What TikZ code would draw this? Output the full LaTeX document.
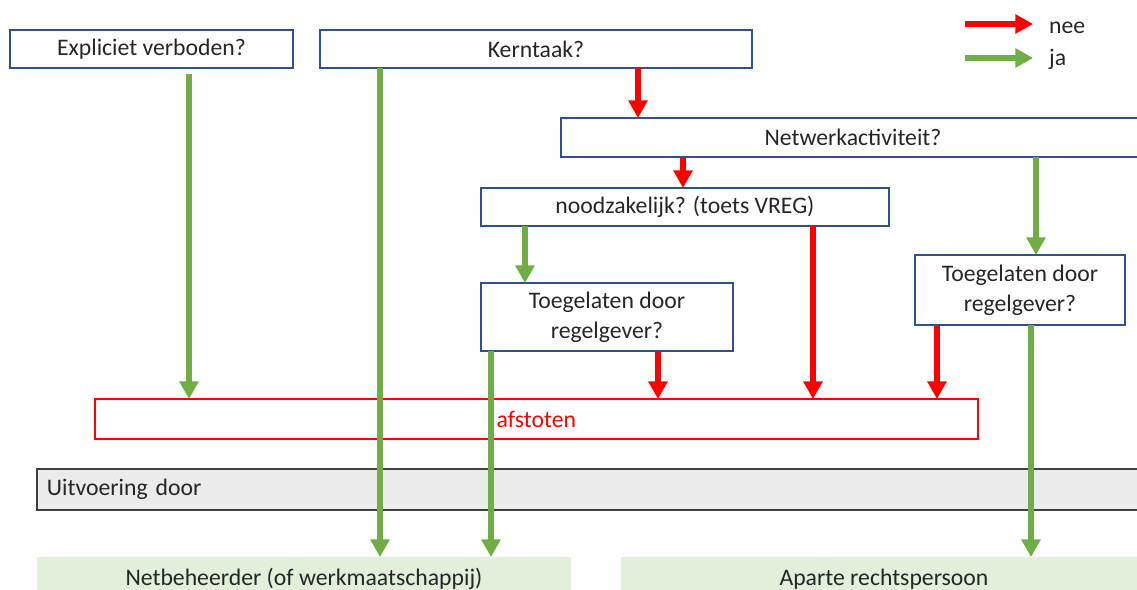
\documentclass[tikz,border=0pt]{standalone}
\usepackage{fontspec}
\setmainfont{Carlito}
\usetikzlibrary{arrows.meta}
\definecolor{ink}{HTML}{262626}
\definecolor{qblue}{HTML}{2F528F}
\definecolor{nred}{HTML}{FF0000}
\definecolor{jgreen}{HTML}{70AD47}
\definecolor{gline}{HTML}{404040}
\definecolor{gfill}{HTML}{EBEBEB}
\definecolor{lgreen}{HTML}{E2EFDA}
\tikzset{
  qbox/.style={draw=qblue, line width=0.8pt, fill=white, anchor=north west,
    outer sep=0pt, inner sep=0pt, align=center, text=ink,
    font=\fontsize{13.5}{17}\selectfont, minimum height=0.76cm},
  outbox/.style={fill=lgreen, anchor=north west, outer sep=0pt, inner sep=0pt,
    text=ink, font=\fontsize{13.5}{17}\selectfont, minimum height=0.88cm},
  ja/.style={-{Triangle[length=10pt,width=10.5pt]}, line width=3.3pt, draw=jgreen},
  nee/.style={-{Triangle[length=10pt,width=10.5pt]}, line width=3.3pt, draw=nred},
}
\begin{document}
\begin{tikzpicture}[x=0.02cm,y=-0.02cm]
  \useasboundingbox (0,0) rectangle (1137,589);

  % vragen
  \node[qbox, minimum width=5.66cm] (expl) at (10,30) {Expliciet verboden?};
  \node[qbox, minimum width=8.64cm] (kern) at (320,30) {Kerntaak?};
  \node[qbox, minimum width=11.68cm, minimum height=0.78cm] (netw) at (561,118) {Netwerkactiviteit?};
  \node[qbox, minimum width=8.16cm] (nood) at (481,188) {noodzakelijk? (toets VREG)};
  \node[qbox, minimum width=5.04cm, minimum height=1.36cm] (toegl) at (481,283) {Toegelaten door\\regelgever?};
  \node[qbox, minimum width=4.2cm, minimum height=1.4cm] (toegr) at (915,255) {Toegelaten door\\regelgever?};

  % uitkomsten
  \node[qbox, draw=nred, text=nred, minimum width=17.66cm, minimum height=0.8cm] (afst) at (95,399) {afstoten};
  \node[qbox, draw=gline, fill=gfill, minimum height=0.82cm, text width=22cm,
    inner xsep=0.2cm, align=left] (uitv) at (37,469) {Uitvoering door};
  \node[outbox, minimum width=10.68cm] (netb) at (37,557) {Netbeheerder (of werkmaatschappij)};
  \node[outbox, minimum width=10.52cm] (apar) at (621,557) {Aparte rechtspersoon};

  % kolommen van de pijlen
  \coordinate (kExpl) at (189,0);
  \coordinate (kKernJ) at (380,0);
  \coordinate (kKernN) at (638,0);
  \coordinate (kNetwN) at (683,0);
  \coordinate (kNetwJ) at (1036,0);
  \coordinate (kNoodJ) at (525,0);
  \coordinate (kNoodN) at (813,0);
  \coordinate (kToeLJ) at (491,0);
  \coordinate (kToeLN) at (658,0);
  \coordinate (kToeRJ) at (1031,0);
  \coordinate (kToeRN) at (937,0);

  \draw[ja, shorten <=0.12cm] (expl.south -| kExpl) -- (afst.north -| kExpl);
  \draw[ja] (kern.south -| kKernJ) -- (netb.north -| kKernJ);
  \draw[nee] (kern.south -| kKernN) -- (netw.north -| kKernN);
  \draw[nee] (netw.south -| kNetwN) -- (nood.north -| kNetwN);
  \draw[ja] (netw.south -| kNetwJ) -- (toegr.north -| kNetwJ);
  \draw[ja] (nood.south -| kNoodJ) -- (toegl.north -| kNoodJ);
  \draw[nee] (nood.south -| kNoodN) -- (afst.north -| kNoodN);
  \draw[ja] (toegl.south -| kToeLJ) -- (netb.north -| kToeLJ);
  \draw[nee] (toegl.south -| kToeLN) -- (afst.north -| kToeLN);
  \draw[ja] (toegr.south -| kToeRJ) -- (apar.north -| kToeRJ);
  \draw[nee] (toegr.south -| kToeRN) -- (afst.north -| kToeRN);

  % legende
  \coordinate (legN) at (965,24);
  \coordinate (legJ) at (965,58);
  \node[anchor=west, text=ink, font=\fontsize{13.5}{17}\selectfont] (lnee) at (1043,28) {nee};
  \node[anchor=west, text=ink, font=\fontsize{13.5}{17}\selectfont] (lja) at (1043,59) {ja};
  \draw[nee, shorten >=0.2cm] (legN) -- (legN -| lnee.west);
  \draw[ja, shorten >=0.2cm] (legJ) -- (legJ -| lja.west);
\end{tikzpicture}
\end{document}
